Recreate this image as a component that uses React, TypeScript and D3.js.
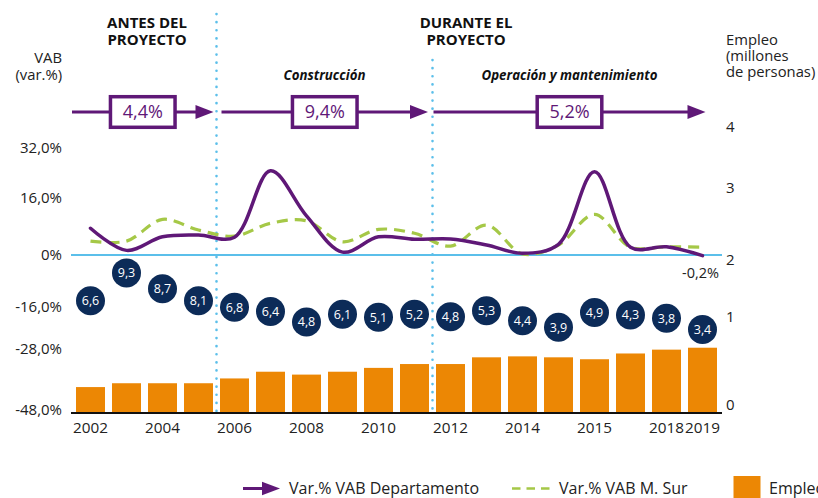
import React from 'react';
import * as d3 from 'd3';

const years = [2002, 2003, 2004, 2005, 2006, 2007, 2008, 2009, 2010, 2011, 2012, 2013, 2014, 2015, 2016, 2017, 2018, 2019];
const xTickLabels = ['2002', '', '2004', '', '2006', '', '2008', '', '2010', '', '2012', '', '2014', '', '2015', '', '2018', '2019'];
const vabDepartamento = [7.5, 1.3, 5.1, 5.6, 5.0, 24.7, 11.0, 0.8, 5.1, 4.4, 4.5, 2.8, 0.5, 3.0, 24.4, 2.2, 2.3, -0.2];
const vabMSur = [3.9, 3.9, 10.0, 7.0, 5.3, 8.9, 9.6, 3.7, 7.2, 6.1, 2.5, 8.4, 0.3, 2.8, 11.4, 2.2, 2.3, 2.2];
const empleo = [0.27, 0.31, 0.31, 0.31, 0.36, 0.43, 0.40, 0.43, 0.47, 0.51, 0.51, 0.58, 0.59, 0.58, 0.56, 0.62, 0.66, 0.68];
const circleLabels = ['6,6', '9,3', '8,7', '8,1', '6,8', '6,4', '4,8', '6,1', '5,1', '5,2', '4,8', '5,3', '4,4', '3,9', '4,9', '4,3', '3,8', '3,4'];
const circlePos = [-14.1, -5.5, -10.4, -14.1, -16.1, -17.3, -20.3, -18.1, -18.9, -18.1, -18.8, -17.1, -19.9, -21.8, -17.6, -18.3, -19.2, -22.4];
const leftTicks = [32, 16, 0, -16, -28, -48];
const leftTickLabels = ['32,0%', '16,0%', '0%', '-16,0%', '-28,0%', '-48,0%'];
const rightTicks = [4, 3, 2, 1, 0];
const periodRates = ['4,4%', '9,4%', '5,2%'];
const periodFrom = [2002, 2006, 2012];
const periodTo = [2005, 2011, 2019];
const phaseLabels = ['Construcción', 'Operación y mantenimiento'];
const lastLabel = '-0,2%';

const PURPLE = '#5f1877';
const GREEN = '#a5c847';
const ORANGE = '#ec8704';
const NAVY = '#0c2b58';
const LBLUE = '#5bbfea';
const FONT = "'Open Sans', 'Noto Sans', sans-serif";

export default function App() {
  const W = 818, H = 498;
  const x = d3.scaleBand<number>().domain(years).range([72.5, 720.5]).paddingInner(7 / 36).paddingOuter(7 / 72);
  const bw = x.bandwidth();
  const cx = (y: number) => (x(y) as number) + bw / 2;
  const boundary = (y: number) => (x(y) as number) + bw + (x.step() - bw) / 2;
  const yL = d3.scaleLinear().domain([-48, -28, -16, 0, 16, 32]).range([410, 349, 307, 255, 198, 148]);
  const yR = d3.scaleLinear().domain([0, 1, 2, 3, 4]).range([405, 317, 260, 188, 127]);
  const yBar = d3.scaleLinear().domain([0, 1]).range([413, 317]);
  const left = 71, right = 722;

  const line = d3.line<number>().x((_, i) => cx(years[i])).y(d => yL(d)).curve(d3.curveCatmullRom.alpha(0.5));

  const arrowY = 112;
  const arrows = periodRates.map((r, i) => {
    const start = i === 0 ? (x(periodFrom[i]) as number) - 4 : boundary(periodFrom[i] - 1) + (i === 1 ? 5 : 1);
    const end = i < 2 ? boundary(periodTo[i]) - (i === 0 ? 3 : 4.5) : cx(periodTo[i]) + 3;
    return { r, start, end, mid: (start + end) / 2 };
  });

  const dividers = [boundary(2005), boundary(2011)];

  return (
    <svg width={W} height={H} style={{ position: 'absolute', left: 0, top: 0, background: '#fff' }} fontFamily={FONT}>
      {/* headers */}
      <g fontWeight={700} fontSize={15} fill="#111" textAnchor="middle">
        <text x={147} y={23} dy="0.35em">ANTES DEL</text>
        <text x={147} y={40} dy="0.35em">PROYECTO</text>
        <text x={466} y={23} dy="0.35em">DURANTE  EL</text>
        <text x={466} y={40} dy="0.35em">PROYECTO</text>
      </g>
      <g fontWeight={700} fontStyle="italic" fontSize={13.3} fill="#111" textAnchor="middle">
        <text x={(dividers[0] + dividers[1]) / 2} y={75} dy="0.35em">{phaseLabels[0]}</text>
        <text x={arrows[2].mid} y={75} dy="0.35em">{phaseLabels[1]}</text>
      </g>
      {/* axis titles */}
      <g fontSize={14.8} fill="#222" textAnchor="end">
        <text x={62} y={58} dy="0.35em">VAB</text>
        <text x={62} y={75} dy="0.35em">(var.%)</text>
      </g>
      <g fontSize={14.8} fill="#222">
        <text x={726} y={40} dy="0.35em">Empleo</text>
        <text x={726} y={56} dy="0.35em">(millones</text>
        <text x={726} y={72} dy="0.35em">de personas)</text>
      </g>
      {/* dividers */}
      {dividers.map((d, i) => (
        <line key={i} x1={d} x2={d} y1={i === 0 ? 14 : 60} y2={416} stroke={LBLUE} strokeWidth={2.6} strokeDasharray="0.1 8" strokeLinecap="round" />
      ))}
      {/* bars */}
      {years.map((y, i) => (
        <rect key={y} x={x(y)} y={yBar(empleo[i])} width={bw} height={yBar(0) - yBar(empleo[i])} fill={ORANGE} />
      ))}
      <line x1={left} x2={right} y1={413} y2={413} stroke="#111" strokeWidth={2} />
      {/* zero line */}
      <line x1={left} x2={right} y1={yL(0)} y2={yL(0)} stroke={LBLUE} strokeWidth={2} />
      {/* left ticks */}
      <g fontSize={15} fill="#222" textAnchor="end">
        {leftTicks.map((t, i) => (
          <text key={t} x={62} y={yL(t)} dy="0.35em">{leftTickLabels[i]}</text>
        ))}
      </g>
      {/* right ticks */}
      <g fontSize={15} fill="#222">
        {rightTicks.map(t => (
          <text key={t} x={726} y={yR(t)} dy="0.35em">{t}</text>
        ))}
      </g>
      {/* x labels */}
      <g fontSize={15.3} fill="#222" textAnchor="middle">
        {years.map((y, i) => xTickLabels[i] ? (
          <text key={y} x={cx(y)} y={428} dy="0.35em">{xTickLabels[i]}</text>
        ) : null)}
      </g>
      {/* lines */}
      <path d={line(vabMSur) || ''} fill="none" stroke={GREEN} strokeWidth={3.2} strokeDasharray="11 7" />
      <path d={line(vabDepartamento) || ''} fill="none" stroke={PURPLE} strokeWidth={3.5} strokeLinejoin="round" strokeLinecap="round" />
      <text x={719} y={273} dy="0.35em" fontSize={14.5} fill="#222" textAnchor="end">{lastLabel}</text>
      {/* circles */}
      {years.map((y, i) => (
        <g key={y}>
          <circle cx={cx(y)} cy={yL(circlePos[i])} r={14.5} fill={NAVY} />
          <text x={cx(y)} y={yL(circlePos[i])} dy="0.35em" textAnchor="middle" fontSize={12.5} fill="#fff">{circleLabels[i]}</text>
        </g>
      ))}
      {/* period arrows */}
      {arrows.map((a, i) => (
        <g key={i}>
          <line x1={a.start} x2={a.end - 16} y1={arrowY} y2={arrowY} stroke={PURPLE} strokeWidth={3} />
          <path d={`M${a.end},${arrowY} L${a.end - 18},${arrowY - 7} L${a.end - 18},${arrowY + 7} Z`} fill={PURPLE} />
          <rect x={a.mid - 32.3} y={arrowY - 15.3} width={64.6} height={30.6} fill="#fff" stroke={PURPLE} strokeWidth={3.5} />
          <text x={a.mid} y={arrowY} dy="0.35em" textAnchor="middle" fontSize={18} fill={PURPLE}>{a.r}</text>
        </g>
      ))}
      {/* legend */}
      <g fontSize={16} fill="#222">
        <line x1={243} x2={264} y1={488.5} y2={488.5} stroke={PURPLE} strokeWidth={3} />
        <path d="M280,488.5 L262,481.8 L262,495.2 Z" fill={PURPLE} />
        <text x={289} y={488} dy="0.35em">Var.% VAB Departamento</text>
        <line x1={512} x2={549.5} y1={488.5} y2={488.5} stroke={GREEN} strokeWidth={2.4} strokeDasharray="8.5 6" />
        <text x={559} y={488} dy="0.35em">Var.% VAB M. Sur</text>
        <rect x={733.5} y={476} width={27} height={22} fill={ORANGE} />
        <text x={769} y={488} dy="0.35em">Empleo</text>
      </g>
    </svg>
  );
}
